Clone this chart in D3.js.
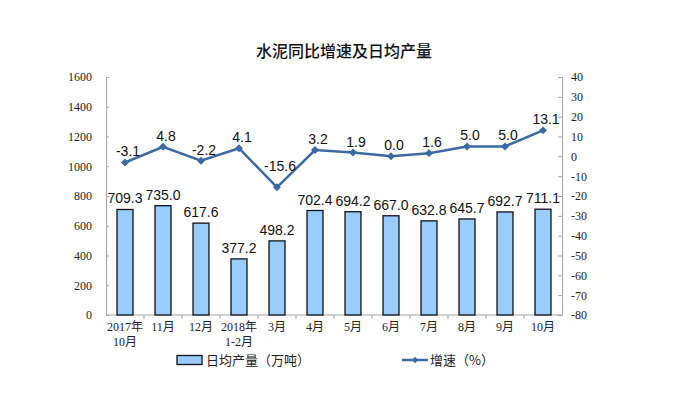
<!DOCTYPE html>
<html>
<head>
<meta charset="utf-8">
<script src="https://cdn.jsdelivr.net/npm/d3@7"></script>
<style>
  body { margin: 0; background: #fff; }
  svg { display: block; }
</style>
</head>
<body>
<div id="chart"></div>
<script>
// categories (two lines for the x labels)
const months = ["2017年|10月", "11月", "12月", "2018年|1-2月", "3月", "4月", "5月", "6月", "7月", "8月", "9月", "10月"];
// daily output, 10k tonnes
const output = [709.3, 735.0, 617.6, 377.2, 498.2, 702.4, 694.2, 667.0, 632.8, 645.7, 692.7, 711.1];
// year-on-year growth, %
const growth = [-3.1, 4.8, -2.2, 4.1, -15.6, 3.2, 1.9, 0.0, 1.6, 5.0, 5.0, 13.1];
const leftTicks = [0, 200, 400, 600, 800, 1000, 1200, 1400, 1600];
const rightTicks = [-80, -70, -60, -50, -40, -30, -20, -10, 0, 10, 20, 30, 40];

const W = 677, H = 399;
const margin = {top: 77, right: 115, bottom: 84, left: 106};
const width = W - margin.left - margin.right;
const height = H - margin.top - margin.bottom;

const barFill = "#99ccff";
const lineColor = "#3b69a5";
const axisColor = "#a6a6a6";
const serif = "'Liberation Serif', 'Times New Roman', 'Noto Sans CJK SC', serif";
const sans = "'Liberation Sans', Arial, 'Noto Sans CJK SC', sans-serif";

const svg = d3.select("#chart").append("svg")
  .attr("width", W)
  .attr("height", H);

/** title */
svg.append("text")
  .attr("x", 344).attr("y", 57)
  .attr("text-anchor", "middle")
  .style("font-family", "'Noto Sans CJK SC', sans-serif")
  .style("font-size", "16px")
  .style("font-weight", 500)
  .attr("fill", "#111")
  .text("水泥同比增速及日均产量");

const g = svg.append("g")
  .attr("transform", "translate(" + margin.left + "," + margin.top + ")");

/** scales */
const x = d3.scaleBand()
  .domain(months)
  .range([0, width])
  .paddingInner(0.58)
  .paddingOuter(0.29);

const yLeft = d3.scaleLinear().domain([0, 1600]).range([height, 0]);
const yRight = d3.scaleLinear().domain([-80, 40]).range([height, 0]);

/** axes */
const leftAxis = g.append("g")
  .call(d3.axisRight(yLeft).tickValues(leftTicks).tickSize(3).tickFormat(d => String(d)));
leftAxis.selectAll("text")
  .attr("x", -14)
  .attr("text-anchor", "end");

const rightAxis = g.append("g")
  .attr("transform", "translate(" + width + ",0)")
  .call(d3.axisLeft(yRight).tickValues(rightTicks).tickSize(4).tickFormat(d => String(d)));
rightAxis.selectAll("text")
  .attr("x", 9)
  .attr("text-anchor", "start");

[leftAxis, rightAxis].forEach(a => {
  a.select(".domain").attr("stroke", axisColor);
  a.selectAll(".tick line").attr("stroke", axisColor);
  a.selectAll("text")
    .style("font-family", serif)
    .style("font-size", "12px")
    .attr("fill", "#222");
});

// bottom axis: ticks sit between categories
const xAxis = g.append("g").attr("transform", "translate(0," + height + ")");
xAxis.append("line")
  .attr("x1", 0).attr("x2", width)
  .attr("stroke", axisColor);
xAxis.selectAll(".sep")
  .data(months.slice(1))
  .join("line")
  .attr("class", "sep")
  .attr("x1", d => x(d) - x.step() * x.paddingInner() / 2)
  .attr("x2", d => x(d) - x.step() * x.paddingInner() / 2)
  .attr("y1", 0).attr("y2", 4)
  .attr("stroke", axisColor);

const xLabels = xAxis.selectAll(".xl")
  .data(months)
  .join("text")
  .attr("class", "xl")
  .attr("text-anchor", "middle")
  .style("font-family", serif)
  .style("font-size", "12px")
  .attr("fill", "#222");
xLabels.each(function(d) {
  const t = d3.select(this);
  d.split("|").forEach((part, i) => {
    t.append("tspan")
      .attr("x", x(d) + x.bandwidth() / 2)
      .attr("y", 16 + i * 15)
      .text(part);
  });
});

/** bars */
g.selectAll(".bar")
  .data(output)
  .join("rect")
  .attr("class", "bar")
  .attr("x", (d, i) => x(months[i]))
  .attr("y", d => yLeft(d))
  .attr("width", x.bandwidth())
  .attr("height", d => height - yLeft(d))
  .attr("fill", barFill)
  .attr("stroke", "#111")
  .attr("stroke-width", 1.3);

g.selectAll(".barLabel")
  .data(output)
  .join("text")
  .attr("class", "barLabel")
  .attr("x", (d, i) => x(months[i]) + x.bandwidth() / 2)
  .attr("y", d => yLeft(d) - 6)
  .attr("text-anchor", "middle")
  .style("font-family", sans)
  .style("font-size", "14px")
  .attr("fill", "#111")
  .text(d => d.toFixed(1));

/** growth line */
const cx = (d, i) => x(months[i]) + x.bandwidth() / 2;
const line = d3.line()
  .x(cx)
  .y(d => yRight(d));

g.append("path")
  .datum(growth)
  .attr("d", line)
  .attr("fill", "none")
  .attr("stroke", lineColor)
  .attr("stroke-width", 2.5);

const diamond = d3.symbol().type(d3.symbolDiamond2).size(40);
g.selectAll(".pt")
  .data(growth)
  .join("path")
  .attr("class", "pt")
  .attr("d", diamond)
  .attr("transform", (d, i) => "translate(" + cx(d, i) + "," + yRight(d) + ")")
  .attr("fill", lineColor);

// the dip label sits higher so it clears the line
const minGrowth = d3.min(growth);
g.selectAll(".lineLabel")
  .data(growth)
  .join("text")
  .attr("class", "lineLabel")
  .attr("x", (d, i) => cx(d, i) + 3)
  .attr("y", d => yRight(d) - (d === minGrowth ? 16 : 6))
  .attr("text-anchor", "middle")
  .style("font-family", sans)
  .style("font-size", "14px")
  .attr("fill", "#111")
  .text(d => d.toFixed(1));

/** legend */
const legend = svg.append("g").attr("transform", "translate(0,360)");
legend.append("rect")
  .attr("x", 177).attr("y", -4.5)
  .attr("width", 25).attr("height", 9)
  .attr("fill", barFill)
  .attr("stroke", "#111")
  .attr("stroke-width", 1.3);
legend.append("text")
  .attr("x", 206).attr("y", 5)
  .style("font-family", "'Noto Sans CJK SC', sans-serif")
  .style("font-size", "13px")
  .attr("fill", "#222")
  .text("日均产量（万吨）");

legend.append("line")
  .attr("x1", 402).attr("x2", 428)
  .attr("stroke", lineColor)
  .attr("stroke-width", 2.5);
legend.append("path")
  .attr("d", d3.symbol().type(d3.symbolDiamond2).size(25))
  .attr("transform", "translate(415,0)")
  .attr("fill", lineColor);
legend.append("text")
  .attr("x", 430).attr("y", 5)
  .style("font-family", "'Noto Sans CJK SC', sans-serif")
  .style("font-size", "13px")
  .attr("fill", "#222")
  .text("增速（%）");
</script>
</body>
</html>
